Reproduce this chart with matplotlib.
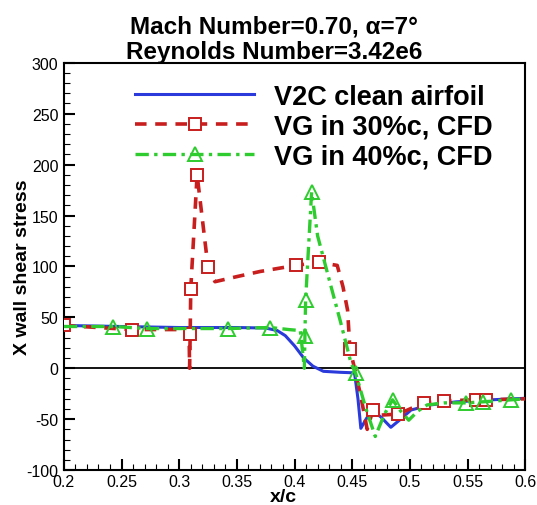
import matplotlib
matplotlib.use('Agg')
import matplotlib.pyplot as plt
from matplotlib.ticker import MultipleLocator

plt.rcParams['font.family'] = ['Liberation Sans', 'DejaVu Sans']
plt.rcParams['axes.unicode_minus'] = False

# V2C clean airfoil
clean_x = [0.2, 0.25, 0.30, 0.35, 0.375, 0.385, 0.392, 0.400, 0.408, 0.416, 0.425, 0.44,
           0.452, 0.455, 0.4575, 0.462, 0.467, 0.475, 0.4835, 0.492, 0.501, 0.518, 0.54, 0.57, 0.6]
clean_y = [42, 41, 40, 40, 39.5, 37, 32, 22, 10, 2, -3, -4,
           -4.5, -30, -59, -50, -41, -48, -58, -50, -41, -36, -33, -31, -29.5]

# VG at 30% chord
vg30_x = [0.2, 0.259, 0.30, 0.3085, 0.309, 0.3095, 0.310, 0.3155, 0.325, 0.331, 0.35, 0.37,
          0.401, 0.421, 0.437, 0.442, 0.446, 0.448, 0.452, 0.457, 0.463, 0.468, 0.475, 0.490,
          0.50, 0.512, 0.530, 0.557, 0.566, 0.6]
vg30_y = [42, 38, 38, 38, 0, 34, 78, 190, 99, 85, 90, 95,
          101, 104, 101, 80, 57, 19, 0, -25, -60, -41, -46, -45,
          -40, -34, -32, -31, -31, -30]
vg30_marks = [0, 1, 5, 6, 7, 8, 12, 13, 17, 21, 23, 25, 26, 27, 28]

# VG at 40% chord
vg40_x = [0.2, 0.243, 0.272, 0.30, 0.342, 0.379, 0.395, 0.405, 0.4085, 0.409, 0.4096, 0.4148,
          0.42, 0.431, 0.44, 0.449, 0.453, 0.462, 0.470, 0.478, 0.485, 0.492, 0.499, 0.507,
          0.515, 0.53, 0.549, 0.563, 0.588, 0.6]
vg40_y = [41, 41, 39, 39, 39, 40, 38, 37, 0, 32, 67, 173,
          130, 83, 45, 5, -5, -40, -67, -45, -31, -42, -51, -42,
          -36, -34, -34, -33, -31, -30]
vg40_marks = [1, 2, 4, 5, 9, 10, 11, 16, 20, 26, 27, 28]

fig = plt.figure(figsize=(5.37, 5.06), dpi=100)
ax = fig.add_axes([0.119, 0.069, 0.859, 0.805])

ax.axhline(0, color='black', lw=1.3, zorder=1)

ax.plot(clean_x, clean_y, color='#2a3adb', lw=2.2, label='V2C clean airfoil', zorder=2)
ax.plot(vg30_x, vg30_y, color='#c81e1e', lw=2.6, dashes=[3.2, 2.4],
        marker='s', markevery=vg30_marks, markersize=9, markerfacecolor='white',
        markeredgewidth=1.4, label='VG in 30%c, CFD', zorder=3)
ax.plot(vg40_x, vg40_y, color='#2ecc2e', lw=2.4, dashes=[4, 1.6, 1, 1.6],
        marker='^', markevery=vg40_marks, markersize=10, markerfacecolor='none',
        markeredgewidth=1.4, label='VG in 40%c, CFD', zorder=4)

ax.set_xlim(0.2, 0.6)
ax.set_ylim(-100, 300)
ax.xaxis.set_minor_locator(MultipleLocator(0.01))
ax.yaxis.set_major_locator(MultipleLocator(50))
ax.yaxis.set_minor_locator(MultipleLocator(10))
ax.set_xticks([0.2, 0.25, 0.3, 0.35, 0.4, 0.45, 0.5, 0.55, 0.6])
ax.set_xticklabels(['0.2', '0.25', '0.3', '0.35', '0.4', '0.45', '0.5', '0.55', '0.6'])
ax.tick_params(which='major', direction='in', length=8, width=1.5, labelsize=11.5, pad=4)
ax.tick_params(axis='x', which='major', pad=3)
ax.tick_params(which='minor', direction='in', length=4, width=0.8)
for s in ax.spines.values():
    s.set_linewidth(1.5)

ax.set_xlabel('x/c', fontsize=14, fontweight='bold')
ax.xaxis.set_label_coords(0.475, -0.043)
ax.set_ylabel('X wall shear stress', fontsize=14, fontweight='bold')
ax.yaxis.set_label_coords(-0.072, 0.5)
ax.set_title('Mach Number=0.70, \u03b1=7\u00b0\nReynolds Number=3.42e6',
             fontsize=17.5, fontweight='bold', linespacing=1.12, pad=3, x=0.456)

leg = ax.legend(loc='upper left', bbox_to_anchor=(0.154, 0.948), frameon=False,
                fontsize=19.5, handlelength=4.4, handletextpad=0.75, labelspacing=0.14,
                borderpad=0, borderaxespad=0, numpoints=1)
for t in leg.get_texts():
    t.set_fontweight('bold')

fig.savefig('out.png', dpi=100)
